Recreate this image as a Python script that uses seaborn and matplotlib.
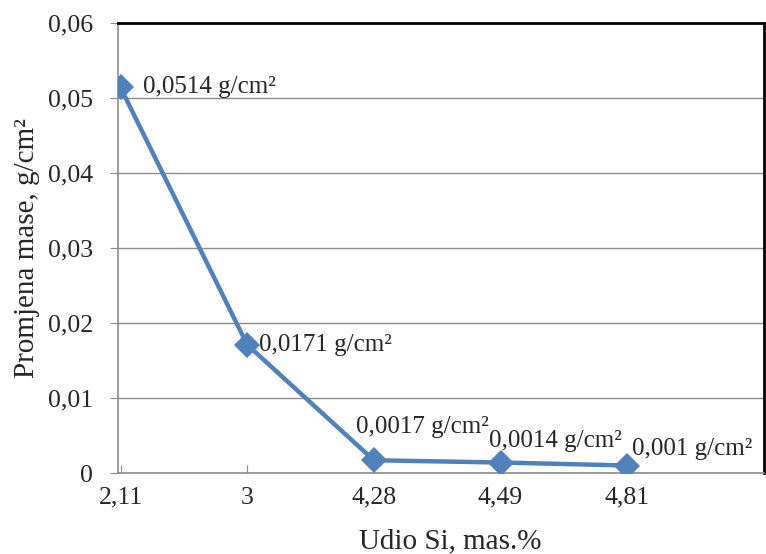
import numpy as np
import pandas as pd
import seaborn as sns
import matplotlib.pyplot as plt

si_labels = ['2,11', '3', '4,28', '4,49', '4,81']
mass_change = [0.0514, 0.0171, 0.0017, 0.0014, 0.001]
point_labels = ['0,0514 g/cm²', '0,0171 g/cm²', '0,0017 g/cm²', '0,0014 g/cm²', '0,001 g/cm²']
y_ticks = [0, 0.01, 0.02, 0.03, 0.04, 0.05, 0.06]
y_tick_labels = ['0', '0,01', '0,02', '0,03', '0,04', '0,05', '0,06']

sns.set_style('white')
plt.rcParams['font.family'] = ['Liberation Serif', 'DejaVu Serif']

df = pd.DataFrame({'si': si_labels, 'dm': mass_change})

fig = plt.figure(figsize=(7.66, 5.54), dpi=100)
ax = fig.add_axes([118 / 766, 1 - 473 / 554, 646 / 766, 450 / 554])

sns.lineplot(data=df, x='si', y='dm', sort=False, ax=ax, color='#4F81BD',
             linewidth=3.2, marker='D', markersize=13, markeredgewidth=0, zorder=3)

ax.set_ylim(0, 0.06)
ax.set_xlim(-0.02, 5.08)
ax.set_yticks(y_ticks)
ax.set_yticklabels(y_tick_labels)
ax.set_xticks(range(len(si_labels)))
ax.set_xticklabels(si_labels)
ax.grid(axis='y', color='#8c8c8c', linewidth=1)
ax.grid(axis='x', visible=False)

ax.tick_params(axis='y', direction='out', length=6, color='#8c8c8c', labelsize=18.5, pad=12, left=True)
ax.tick_params(axis='x', direction='in', length=6, color='#8c8c8c', labelsize=18.5, pad=10, bottom=True)

for side in ['left', 'bottom']:
    ax.spines[side].set_color('#8c8c8c')
    ax.spines[side].set_linewidth(1.2)
for side in ['top', 'right']:
    ax.spines[side].set_color('black')
    ax.spines[side].set_linewidth(2)

ax.set_xlabel('Udio Si, mas.%', fontsize=21)
ax.xaxis.set_label_coords((450 - 118) / 646, -(548 - 473) / 450)
ax.xaxis.label.set_va('baseline')
ax.set_ylabel('Promjena mase, g/cm²', fontsize=21)
ax.yaxis.set_label_coords(-(118 - 40) / 646, 0.5)

offsets = [(22, 0), (12, 0), (-18, 33), (-12, 22), (5, 17)]
for i, (txt, (dx, dy)) in enumerate(zip(point_labels, offsets)):
    ax.annotate(txt, xy=(i, mass_change[i]), xytext=(dx, dy), textcoords='offset pixels',
                ha='left', va='center', fontsize=18, annotation_clip=False)

fig.savefig('out.png', dpi=100)
